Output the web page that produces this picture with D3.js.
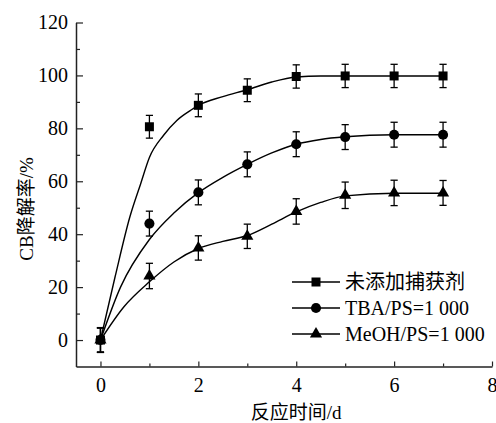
<!DOCTYPE html>
<html>
<head>
<meta charset="utf-8">
<script src="https://cdn.jsdelivr.net/npm/d3@7"></script>
<style>
  html, body { margin: 0; padding: 0; background: #fff; }
  svg text { font-family: "Times New Roman", "Liberation Serif", Tinos, "DejaVu Serif", "Noto Sans CJK SC", serif; fill: #000; }
</style>
</head>
<body>
<svg id="chart" width="496" height="423"></svg>
<script>
// Measured CB degradation (%) vs. reaction time (d)
const days = [0, 1, 2, 3, 4, 5, 6, 7];
const noScavenger = [0, 80.6, 88.7, 94.4, 99.6, 99.8, 99.8, 99.8];
const noScavengerErr = [4.5, 4.3, 4.3, 4.3, 4.4, 4.4, 4.4, 4.4];
const tba = [0, 44, 55.8, 66.4, 74, 76.7, 77.6, 77.6];
const tbaErr = [4.6, 4.7, 4.7, 4.7, 4.7, 4.7, 4.7, 4.7];
const meoh = [0, 24.2, 34.8, 39.2, 48.6, 54.7, 55.6, 55.6];
const meohErr = [4.7, 4.8, 4.6, 4.6, 4.8, 5.0, 4.8, 4.7];

// Smoothed trend curves through each series
const fitXNo = [0, 0.3, 0.6, 0.82, 1.0, 1.29, 1.56, 1.84, 2, 2.5, 3, 3.5, 4, 4.5, 5, 6, 7];
const fitYNo = [0, 24, 46.5, 59, 69, 77.4, 83, 86.8, 88.7, 92, 94.6, 97.5, 99.4, 99.8, 99.8, 99.8, 99.8];
const fitXTba = [0, 0.41, 1.0, 1.5, 2, 2.5, 3, 3.5, 4, 4.5, 5, 6, 7];
const fitYTba = [0, 20, 38, 48, 55.7, 61.5, 66.4, 70.7, 74, 75.8, 76.8, 77.6, 77.6];
const fitXMeoh = [0, 0.48, 1, 1.5, 2, 2.5, 3, 3.5, 4, 4.5, 5, 6, 7];
const fitYMeoh = [0, 12.6, 22, 29.5, 34.6, 37.3, 39.5, 43.8, 48.4, 52, 54.5, 55.5, 55.5];

const seriesNames = ["未添加捕获剂", "TBA/PS=1 000", "MeOH/PS=1 000"];
const xMajorTicks = [0, 2, 4, 6, 8];
const xMinorTicks = [1, 3, 5, 7];
const yMajorTicks = [0, 20, 40, 60, 80, 100, 120];
const yMinorTicks = [10, 30, 50, 70, 90, 110];
const xTitle = "反应时间/d";
const yTitle = "CB降解率/%";

const svg = d3.select("#chart");
const x = d3.scaleLinear().domain([-0.5, 8]).range([76, 492]);
const y = d3.scaleLinear().domain([-10, 120]).range([366.5, 22.5]);

const series = [
  { name: seriesNames[0], vals: noScavenger, err: noScavengerErr, fx: fitXNo, fy: fitYNo, sym: d3.symbolSquare, size: 81 },
  { name: seriesNames[1], vals: tba, err: tbaErr, fx: fitXTba, fy: fitYTba, sym: d3.symbolCircle, size: 80 },
  { name: seriesNames[2], vals: meoh, err: meohErr, fx: fitXMeoh, fy: fitYMeoh, sym: d3.symbolTriangle, size: 64 }
];

// Axes with inward-facing ticks
const y0 = y.range()[0];
const xAxisG = svg.append("g").attr("transform", `translate(0,${y0})`);
xAxisG.call(d3.axisBottom(x).tickValues(xMajorTicks).tickSize(-5).tickSizeOuter(0).tickPadding(11).tickFormat(d3.format("d")));
svg.append("g").attr("transform", `translate(0,${y0})`)
  .call(d3.axisBottom(x).tickValues(xMinorTicks).tickSize(-3).tickSizeOuter(0).tickFormat(""))
  .select(".domain").remove();

const yAxisG = svg.append("g").attr("transform", `translate(${x.range()[0]},0)`);
yAxisG.call(d3.axisLeft(y).tickValues(yMajorTicks).tickSize(-7).tickSizeOuter(0).tickPadding(8).tickFormat(d3.format("d")));
svg.append("g").attr("transform", `translate(${x.range()[0]},0)`)
  .call(d3.axisLeft(y).tickValues(yMinorTicks).tickSize(-4).tickSizeOuter(0).tickFormat(""))
  .select(".domain").remove();

svg.selectAll(".domain").attr("stroke", "#222").attr("stroke-width", 1.5);
svg.selectAll(".tick line").attr("stroke", "#222").attr("stroke-width", 1.2);
svg.selectAll(".tick text").attr("font-size", 20).attr("fill", "#111");

// Axis titles
svg.append("text").attr("x", x(4)).attr("y", 419).attr("text-anchor", "middle")
  .attr("font-size", 19).text(xTitle);
svg.append("text").attr("transform", "translate(33,209) rotate(-90)").attr("text-anchor", "middle")
  .attr("font-size", 19).text(yTitle);

// Trend curves
const line = d3.line().x(d => x(d[0])).y(d => y(d[1])).curve(d3.curveMonotoneX);
series.forEach(s => {
  svg.append("path").datum(s.fx.map((v, i) => [v, s.fy[i]]))
    .attr("d", line).attr("fill", "none").attr("stroke", "#000").attr("stroke-width", 1.4);
});

// Error bars and markers
const cap = 3.6;
series.forEach(s => {
  const g = svg.append("g");
  days.forEach((d, i) => {
    const cx = x(d), top = y(s.vals[i] + s.err[i]), bot = y(s.vals[i] - s.err[i]);
    g.append("line").attr("x1", cx).attr("x2", cx).attr("y1", top).attr("y2", bot)
      .attr("stroke", "#000").attr("stroke-width", 1.3);
    [top, bot].forEach(yy => g.append("line").attr("x1", cx - cap).attr("x2", cx + cap)
      .attr("y1", yy).attr("y2", yy).attr("stroke", "#000").attr("stroke-width", 1.3));
  });
  g.selectAll("path.m").data(days).enter().append("path").attr("class", "m")
    .attr("transform", (d, i) => `translate(${x(d)},${y(s.vals[i])})`)
    .attr("d", d3.symbol().type(s.sym).size(s.size)).attr("fill", "#000");
});

// Legend
const legRows = [282, 308, 334];
series.forEach((s, i) => {
  const ly = legRows[i];
  svg.append("line").attr("x1", 292).attr("x2", 340).attr("y1", ly).attr("y2", ly)
    .attr("stroke", "#000").attr("stroke-width", 1.4);
  svg.append("path").attr("transform", `translate(316,${ly})`)
    .attr("d", d3.symbol().type(s.sym).size(s.size)).attr("fill", "#000");
  svg.append("text").attr("x", 345).attr("y", ly).attr("dy", "0.35em")
    .attr("font-size", 20).text(s.name);
});
</script>
</body>
</html>
